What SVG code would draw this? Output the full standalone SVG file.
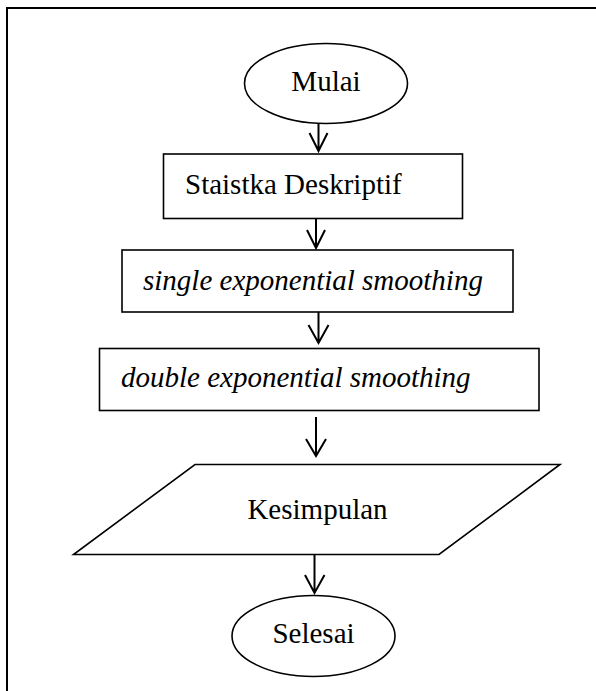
<svg xmlns="http://www.w3.org/2000/svg" width="596" height="691" viewBox="0 0 596 691">
<style>
.s{fill:#fff;stroke:#000;stroke-width:1.6}
.t{font-family:"Liberation Serif","Times New Roman",serif;font-size:29px;fill:#000}
.i{font-style:italic}
.c{fill:none;stroke:#000;stroke-width:2}
</style>
<rect width="596" height="691" fill="#fff"/>
<g id="frame">
<line x1="7" y1="8" x2="596" y2="8" stroke="#000" stroke-width="2"/>
<line x1="7" y1="7" x2="7" y2="691" stroke="#000" stroke-width="2"/>
</g>
<g id="connectors">
<path class="c" d="M318.5 124V151M309.5 133L318.5 151L327.5 133"/>
<path class="c" d="M316 219V248M307 230L316 248L325 230"/>
<path class="c" d="M318.5 312V343M308.5 325L318.5 343L328.5 325"/>
<path class="c" d="M316 417V456M306 439L316 456L326 439"/>
<path class="c" d="M314.5 554V593M305 575L314.5 593L324.5 575"/>
</g>
<g id="mulai">
<ellipse class="s" cx="326" cy="83.5" rx="81.5" ry="40"/>
<text class="t" x="326" y="91" text-anchor="middle">Mulai</text>
</g>
<g id="statistika">
<rect class="s" x="163.5" y="154" width="299" height="64.5"/>
<text class="t" x="185" y="193.5">Staistka Deskriptif</text>
</g>
<g id="single">
<rect class="s" x="122" y="250" width="391" height="62"/>
<text class="t i" x="143" y="290">single exponential smoothing</text>
</g>
<g id="double">
<rect class="s" x="99.5" y="348.5" width="439.5" height="62"/>
<text class="t i" x="121" y="386.5">double exponential smoothing</text>
</g>
<g id="kesimpulan">
<polygon class="s" points="195,464.5 560,464.5 439,554.5 73.5,554.5"/>
<text class="t" x="317.5" y="519" text-anchor="middle">Kesimpulan</text>
</g>
<g id="selesai">
<ellipse class="s" cx="313.5" cy="636" rx="81.5" ry="40.5"/>
<text class="t" x="313.5" y="643" text-anchor="middle">Selesai</text>
</g>
</svg>
